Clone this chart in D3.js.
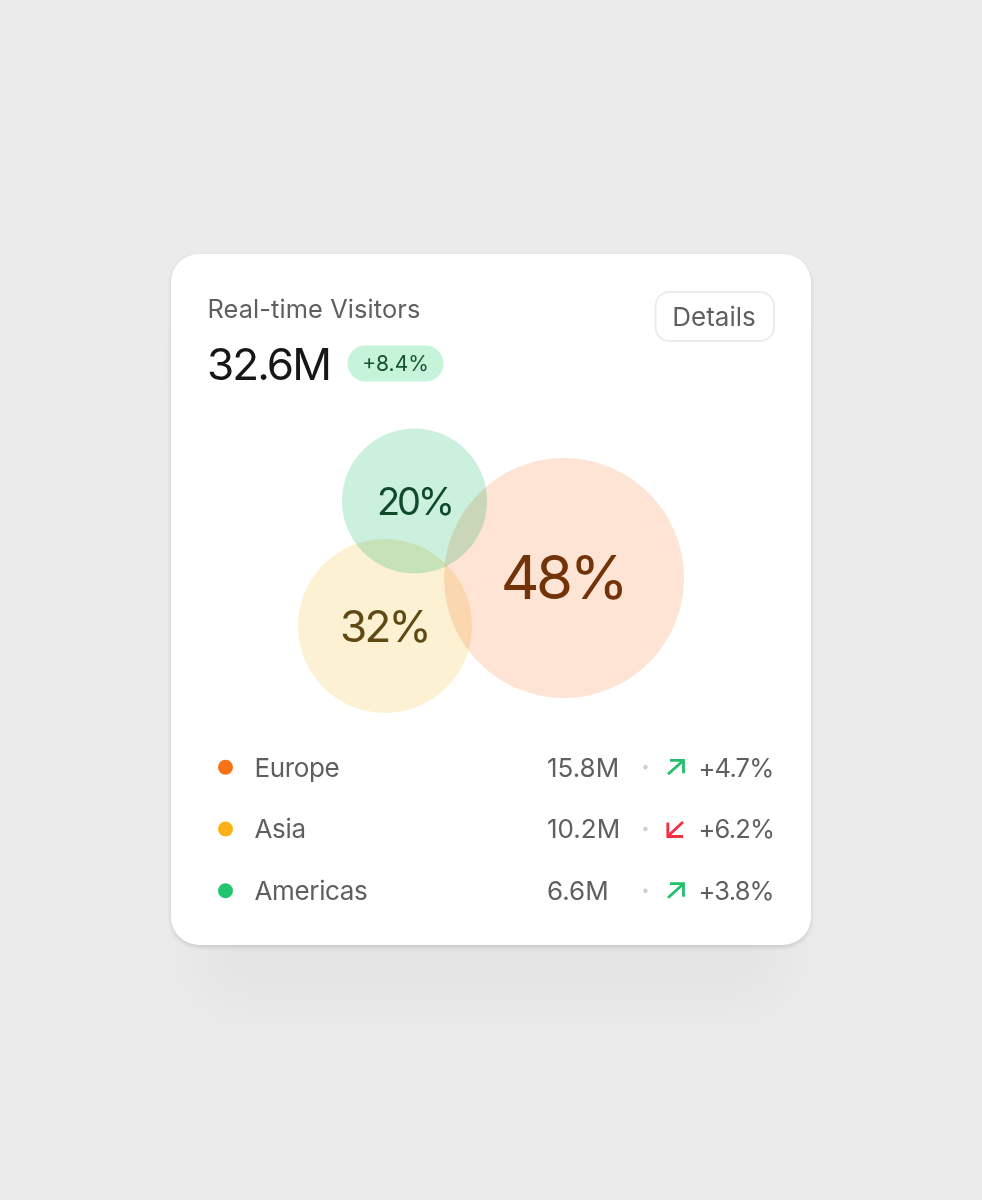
<!DOCTYPE html>
<html><head><meta charset="utf-8">
<script src="https://cdn.jsdelivr.net/npm/d3@7"></script>
<style>
html,body{margin:0;padding:0;background:#ebebeb;width:982px;height:1200px;overflow:hidden}
svg{display:block}
text{font-family:Inter,"Noto Sans",sans-serif}
</style></head><body>
<svg id="c" width="982" height="1200"></svg>
<script>
const regions = ["Europe","Asia","Americas"];
const shares = [48,32,20];
const visitors = ["15.8M","10.2M","6.6M"];
const changes = ["+4.7%","+6.2%","+3.8%"];
const directions = ["up","down","up"];
const total = "32.6M";
const totalChange = "+8.4%";

const fills = ["#fee4d4","#fcf1d3","#cbf0dd"];
const dots = ["#f97316","#fbb016","#22c56e"];
const labelCols = ["#723308","#5f4a14","#0f4a2a"];
const labelSizes = [60,44,38];
const labelSpacing = [-3.5,-2.7,-3.1];
const centres = [[564,578],[385,626],[414.5,501]];

const svg = d3.select("#c");
const defs = svg.append("defs");
const f1 = defs.append("filter").attr("id","soft").attr("x","-30%").attr("y","-30%").attr("width","160%").attr("height","170%");
f1.append("feGaussianBlur").attr("stdDeviation",30);
const f2 = defs.append("filter").attr("id","tight").attr("x","-10%").attr("y","-10%").attr("width","120%").attr("height","120%");
f2.append("feGaussianBlur").attr("stdDeviation",2);

const cx=171, cy=254, cw=640, ch=691, cr=28;
svg.append("rect").attr("x",cx+24).attr("y",cy+60).attr("width",cw-48).attr("height",ch).attr("rx",cr).attr("fill","#000").attr("opacity",0.028).attr("filter","url(#soft)");
svg.append("rect").attr("x",cx).attr("y",cy+2).attr("width",cw).attr("height",ch).attr("rx",cr).attr("fill","#000").attr("opacity",0.13).attr("filter","url(#tight)");
svg.append("rect").attr("x",cx).attr("y",cy).attr("width",cw).attr("height",ch).attr("rx",cr).attr("fill","#fff");

svg.append("text").attr("x",207.5).attr("y",318).attr("font-size",25.4).attr("letter-spacing",0.1).attr("fill","#5f5f5f").text("Real-time Visitors");
svg.append("text").attr("x",207).attr("y",380).attr("font-size",44).attr("letter-spacing",-1.9).attr("fill","#161616").text(total);
svg.append("rect").attr("x",347.5).attr("y",345.5).attr("width",96).attr("height",36).attr("rx",18).attr("fill","#c6f4db");
svg.append("text").attr("x",395.5).attr("y",371).attr("text-anchor","middle").attr("font-size",21).attr("fill","#14532d").text(totalChange);

svg.append("rect").attr("x",655.5).attr("y",292).attr("width",118.5).attr("height",49).attr("rx",14).attr("fill","#fff").attr("stroke","#ececec").attr("stroke-width",2);
svg.append("text").attr("x",714).attr("y",325.5).attr("text-anchor","middle").attr("font-size",26).attr("fill","#5f5f5f").text("Details");

const r = d3.scaleLinear().domain([20,32,48]).range([72.5,87,120]);
const g = svg.append("g");
g.append("g").style("isolation","isolate").selectAll("circle").data(shares).join("circle")
  .attr("cx",(d,i)=>centres[i][0]).attr("cy",(d,i)=>centres[i][1])
  .attr("r",d=>r(d)).attr("fill",(d,i)=>fills[i]).style("mix-blend-mode","multiply");
g.append("g").selectAll("text").data(shares).join("text")
  .attr("x",(d,i)=>centres[i][0]-(i==1?0.5:i==2?0:1)).attr("y",(d,i)=>centres[i][1]+[21,16,13.5][i])
  .attr("text-anchor","middle").attr("font-size",(d,i)=>labelSizes[i])
  .attr("letter-spacing",(d,i)=>labelSpacing[i])
  .attr("fill",(d,i)=>labelCols[i]).text(d=>d+"%");

const y = d3.scalePoint().domain(regions).range([767.3,890.7]);
const rows = svg.append("g").selectAll("g").data(regions).join("g").attr("transform",d=>`translate(0,${y(d)})`);
rows.append("circle").attr("cx",225.5).attr("r",7.5).attr("fill",(d,i)=>dots[i]);
rows.append("text").attr("x",254.5).attr("y",9.3).attr("font-size",26).attr("letter-spacing",-0.35).attr("fill","#5f5f5f").text(d=>d);
rows.append("text").attr("x",547).attr("y",9.3).attr("font-size",26).attr("fill","#5f5f5f").text((d,i)=>visitors[i]);
rows.append("circle").attr("cx",645.5).attr("cy",0).attr("r",2.2).attr("fill","#cfcfcf");
rows.append("text").attr("x",698.5).attr("y",9.3).attr("font-size",25.5).attr("letter-spacing",-0.8).attr("fill","#5f5f5f").text((d,i)=>changes[i]);
rows.append("path")
  .attr("d",(d,i)=>directions[i]==="up"?"M668,7 L683,-6.5 M670,-7 H683.5 V6":"M683,-7 L668,7 M667.8,-6.5 V7.5 H683")
  .attr("fill","none").attr("stroke",(d,i)=>directions[i]==="up"?"#22c06c":"#f42f45").attr("stroke-width",2.8);
</script></body></html>
